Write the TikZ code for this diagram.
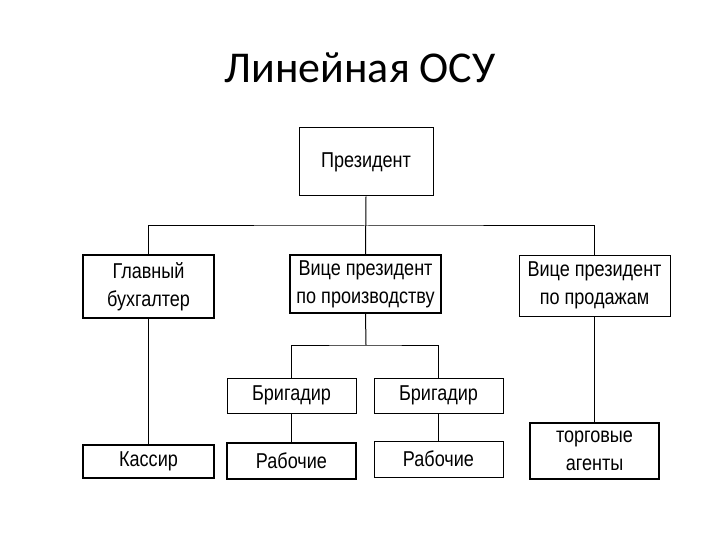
\documentclass[tikz,border=0pt]{standalone}
\usepackage{fontspec}
\setmainfont{Liberation Sans}
\newfontfamily\titlefont{Carlito}
\newfontfamily\boxfont[FakeStretch=0.84]{Liberation Sans}
\begin{document}
\begin{tikzpicture}[x=1pt,y=1pt,
  box/.style={draw=black, line width=1pt, fill=white, inner sep=0pt, align=center,
    font=\boxfont\fontsize{21.5}{28}\selectfont},
  thickbox/.style={box, line width=1.8pt},
  conn/.style={draw=black, line width=1pt}]
\useasboundingbox[fill=white] (0,0) rectangle (720,-540);
\node[anchor=base, font=\titlefont\fontsize{44}{50}\selectfont] (title) at (360,-83) {Линейная ОСУ};
\node[box, minimum width=134pt, minimum height=68pt] (pres) at (366,-162) {Президент};
\node[thickbox, minimum width=131pt, minimum height=63pt] (gb) at (148.5,-286.5) {Главный\\бухгалтер};
\node[thickbox, minimum width=151pt, minimum height=58pt] (vpp) at (365.5,-284) {Вице президент\\по производству};
\node[box, minimum width=151pt, minimum height=61pt] (vps) at (594.5,-285.5) {Вице президент\\по продажам};
\node[box, minimum width=129pt, minimum height=35pt] (br1) at (291.5,-395.5) {Бригадир};
\node[box, minimum width=129pt, minimum height=35pt] (br2) at (438.5,-395.5) {Бригадир};
\node[thickbox, minimum width=129pt, minimum height=36pt] (rb1) at (291.5,-461) {Рабочие};
\node[box, minimum width=129pt, minimum height=36pt] (rb2) at (438.5,-459) {Рабочие};
\node[box, line width=1.3pt, minimum width=131pt, minimum height=33pt] (kas) at (148.5,-461.5) {Кассир};
\node[thickbox, minimum width=129pt, minimum height=56pt] (ta) at (594.5,-451) {торговые\\агенты};
\coordinate (bus) at (366,-226);
\coordinate (bus2) at (366,-345);
\draw[conn] (pres.south) -- (vpp.north);
\draw[conn] (gb.north) |- (bus) -| (vps.north);
\draw[conn] (vpp.south) -- (bus2);
\draw[conn] (br1.north) |- (bus2) -| (br2.north);
\draw[conn] (br1.south) -- (rb1.north);
\draw[conn] (br2.south) -- (rb2.north);
\draw[conn] (gb.south) -- (kas.north);
\draw[conn] (vps.south) -- (ta.north);
\end{tikzpicture}
\end{document}
